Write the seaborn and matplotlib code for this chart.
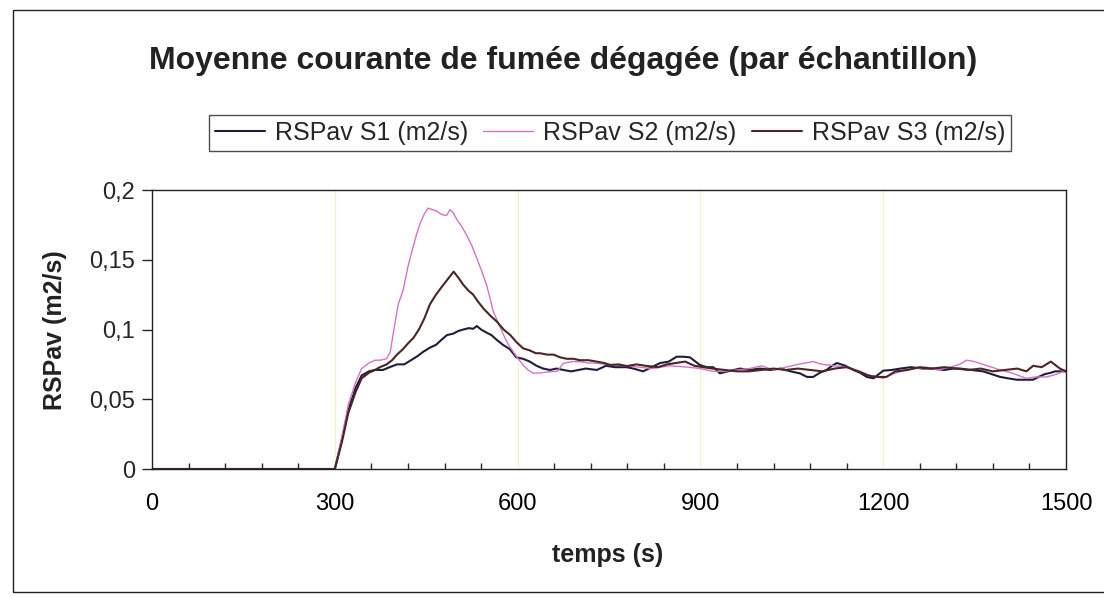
import pandas as pd
import seaborn as sns
import matplotlib.pyplot as plt
from matplotlib.patches import Rectangle
from matplotlib.ticker import MultipleLocator, FuncFormatter

# --------------------- data --------------------- #
title = "Moyenne courante de fumée dégagée (par échantillon)"
labels = ["RSPav S1 (m2/s)", "RSPav S2 (m2/s)", "RSPav S3 (m2/s)"]

t_s1 = [0, 300, 312, 322, 334, 344, 356, 366, 379, 390, 402, 414, 425, 436, 445,
        456, 466, 476, 484, 494, 503, 511, 520, 527, 533, 540, 548, 557, 566, 576,
        587, 598, 609, 620, 631, 642, 653, 664, 675, 688, 700, 712, 730, 745, 760,
        779, 790, 806, 820, 834, 848, 861, 872, 883, 899, 910, 921, 932, 945, 965,
        980, 998, 1015, 1031, 1048, 1063, 1075, 1085, 1096, 1107, 1116, 1124, 1138,
        1151, 1162, 1173, 1184, 1200, 1214, 1228, 1245, 1265, 1282, 1300, 1315,
        1326, 1345, 1364, 1378, 1392, 1405, 1419, 1432, 1446, 1455, 1465, 1475,
        1482, 1490, 1500]
v_s1 = [0, 0, 0.022, 0.042, 0.058, 0.067, 0.070, 0.071, 0.071, 0.073, 0.075, 0.075,
        0.078, 0.081, 0.084, 0.087, 0.089, 0.093, 0.096, 0.097, 0.099, 0.100, 0.101,
        0.1005, 0.1025, 0.100, 0.098, 0.096, 0.0925, 0.089, 0.086, 0.080, 0.079,
        0.077, 0.074, 0.072, 0.071, 0.072, 0.071, 0.070, 0.071, 0.072, 0.071, 0.074,
        0.073, 0.073, 0.072, 0.070, 0.073, 0.076, 0.077, 0.0805, 0.0805, 0.080,
        0.0746, 0.073, 0.073, 0.0686, 0.070, 0.072, 0.071, 0.072, 0.071, 0.072,
        0.070, 0.0686, 0.066, 0.066, 0.069, 0.071, 0.074, 0.076, 0.074, 0.071,
        0.069, 0.066, 0.065, 0.0705, 0.071, 0.072, 0.073, 0.072, 0.072, 0.071,
        0.072, 0.072, 0.071, 0.070, 0.068, 0.066, 0.065, 0.064, 0.064, 0.064,
        0.066, 0.068, 0.069, 0.070, 0.070, 0.070]

t_s2 = [0, 300, 312, 322, 334, 344, 356, 366, 374, 385, 391, 397, 404, 412, 420,
        427, 434, 440, 447, 453, 460, 467, 473, 479, 484, 489, 494, 500, 508, 516,
        525, 533, 541, 549, 555, 560, 569, 577, 585, 593, 601, 609, 617, 626, 640,
        653, 665, 675, 690, 702, 716, 730, 745, 757, 779, 800, 820, 850, 880, 900,
        920, 940, 960, 980, 1000, 1020, 1040, 1060, 1085, 1100, 1120, 1140, 1160,
        1180, 1200, 1215, 1230, 1250, 1270, 1290, 1310, 1325, 1337, 1350, 1364,
        1378, 1392, 1410, 1435, 1450, 1468, 1485, 1500]
v_s2 = [0, 0, 0.024, 0.046, 0.062, 0.072, 0.076, 0.078, 0.078, 0.079, 0.084, 0.100,
        0.118, 0.128, 0.145, 0.157, 0.168, 0.176, 0.183, 0.187, 0.186, 0.185, 0.183,
        0.182, 0.182, 0.186, 0.184, 0.179, 0.174, 0.168, 0.160, 0.151, 0.142, 0.132,
        0.122, 0.113, 0.104, 0.096, 0.089, 0.084, 0.079, 0.0745, 0.071, 0.0686,
        0.069, 0.0698, 0.070, 0.0758, 0.077, 0.077, 0.076, 0.0758, 0.075, 0.0746,
        0.074, 0.073, 0.072, 0.074, 0.073, 0.072, 0.070, 0.070, 0.071, 0.072, 0.074,
        0.071, 0.073, 0.075, 0.077, 0.075, 0.074, 0.073, 0.070, 0.067, 0.065, 0.068,
        0.070, 0.072, 0.073, 0.071, 0.073, 0.075, 0.078, 0.077, 0.075, 0.073, 0.071,
        0.069, 0.065, 0.066, 0.066, 0.068, 0.071]

t_s3 = [0, 300, 312, 322, 334, 344, 356, 366, 374, 385, 394, 402, 412, 420, 429,
        438, 447, 456, 466, 478, 487, 495, 503, 511, 519, 527, 535, 544, 555, 566,
        577, 588, 598, 609, 620, 630, 637, 648, 659, 670, 681, 692, 702, 716, 730,
        742, 752, 766, 779, 795, 810, 830, 845, 860, 875, 890, 905, 920, 940, 960,
        980, 1000, 1020, 1040, 1060, 1080, 1100, 1120, 1140, 1160, 1175, 1190, 1205,
        1220, 1240, 1260, 1280, 1300, 1320, 1340, 1360, 1380, 1400, 1420, 1435,
        1446, 1460, 1475, 1490, 1500]
v_s3 = [0, 0, 0.020, 0.040, 0.055, 0.065, 0.069, 0.071, 0.073, 0.075, 0.078, 0.082,
        0.086, 0.090, 0.094, 0.100, 0.108, 0.118, 0.125, 0.132, 0.137, 0.1415, 0.137,
        0.132, 0.128, 0.125, 0.120, 0.115, 0.110, 0.1056, 0.100, 0.096, 0.091,
        0.0865, 0.085, 0.083, 0.083, 0.082, 0.082, 0.080, 0.079, 0.079, 0.078, 0.078,
        0.077, 0.076, 0.0746, 0.075, 0.0738, 0.075, 0.074, 0.073, 0.075, 0.076,
        0.077, 0.074, 0.073, 0.072, 0.071, 0.070, 0.070, 0.071, 0.072, 0.071, 0.072,
        0.071, 0.070, 0.072, 0.073, 0.070, 0.067, 0.066, 0.066, 0.070, 0.071, 0.073,
        0.072, 0.073, 0.072, 0.071, 0.072, 0.070, 0.071, 0.072, 0.070, 0.074, 0.073,
        0.077, 0.072, 0.070]

x_ticks = [0, 300, 600, 900, 1200, 1500]
y_ticks = [0, 0.05, 0.1, 0.15, 0.2]

# --------------------- plot --------------------- #
sns.set_style("white")
plt.rcParams['font.family'] = ['Liberation Sans', 'DejaVu Sans']

fig = plt.figure(figsize=(11.04, 5.97), dpi=100)
ax = fig.add_axes([0.1377, 0.2144, 0.8279, 0.4673])

# light yellow vertical gridlines
for xv in x_ticks[1:-1]:
    ax.axvline(xv, color='#f6f1c6', lw=0.9, zorder=0)

series = [(t_s1, v_s1, '#1e1e3c', 1.5),
          (t_s2, v_s2, '#d672c4', 1.0),
          (t_s3, v_s3, '#4a2626', 1.5)]
for (t, v, col, lw), lab in zip(series, labels):
    df = pd.DataFrame({'temps': t, 'rsp': v})
    sns.lineplot(data=df, x='temps', y='rsp', ax=ax, color=col, lw=lw,
                 label=lab, estimator=None, sort=False)

ax.set_xlim(0, 1500)
ax.set_ylim(0, 0.2)
ax.set_xticks(x_ticks)
ax.set_yticks(y_ticks)
ax.xaxis.set_minor_locator(MultipleLocator(60))
ax.yaxis.set_major_formatter(FuncFormatter(lambda v, p: ('%g' % round(v, 2)).replace('.', ',')))
ax.tick_params(axis='x', which='major', direction='out', length=8, width=1,
               labelsize=17, pad=9, colors='black')
ax.tick_params(axis='x', which='minor', direction='in', length=4, width=1, bottom=True)
ax.tick_params(axis='y', which='major', direction='out', length=7, width=1,
               labelsize=17, pad=5, left=True)
for sp in ax.spines.values():
    sp.set_color('#222222')
    sp.set_linewidth(1.0)
ax.set_xlabel('')
ax.set_ylabel('')

fig.text(0.5104, 0.897, title, ha='center', va='center', fontsize=23,
         fontweight='bold', color='#222222')
fig.text(0.050, 0.447, 'RSPav (m2/s)', rotation=90, ha='center', va='center',
         fontsize=18, fontweight='bold', color='#222222')
fig.text(0.550, 0.070, 'temps (s)', ha='center', va='center',
         fontsize=18, fontweight='bold', color='#222222')

leg = ax.legend(loc='center', bbox_to_anchor=(0.5525, 0.777), bbox_transform=fig.transFigure,
                ncol=3, fontsize=18, frameon=True, fancybox=False, borderpad=0.25,
                handlelength=2.0, handletextpad=0.4, columnspacing=0.6)
leg.get_frame().set_edgecolor('#222222')
leg.get_frame().set_linewidth(1.0)

# outer chart frame
fig.patches.append(Rectangle((13 / 1104, 1 - 592 / 597), 1.1, (592 - 10) / 597,
                             transform=fig.transFigure, fill=False,
                             edgecolor='#222222', lw=1.0))

fig.savefig('out.png', dpi=100)
